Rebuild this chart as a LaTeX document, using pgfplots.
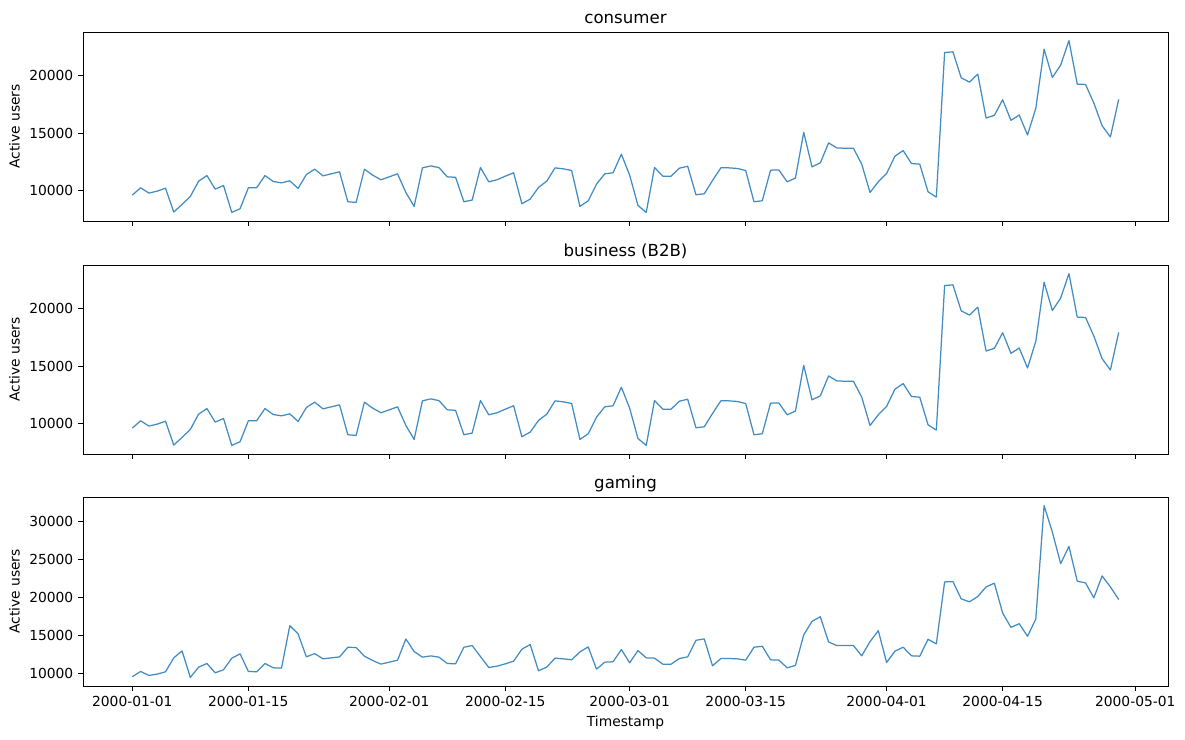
\documentclass[border=0pt]{standalone}
\usepackage{fontspec}
\setmainfont{DejaVu Sans}
\usepackage{pgfplots}
\usepackage{pgfplotstable}
\pgfplotsset{compat=1.18}
\definecolor{ln}{RGB}{66,140,194}
\pgfplotstableread{
d c g
0 9590 9610
1 10235 10305
2 9770 9780
3 9940 9955
4 10200 10260
5 8115 12090
6 8780 13005
7 9480 9520
8 10810 10870
9 11300 11350
10 10115 10130
11 10435 10520
12 8090 12050
13 8405 12615
14 10235 10305
15 10235 10260
16 11300 11350
17 10780 10785
18 10665 10740
19 10840 16315
20 10175 15230
21 11390 12220
22 11855 12655
23 11275 11960
24 11450 12090
25 11625 12220
26 9015 13485
27 8955 13440
28 11855 12310
29 11335 11740
30 10930 11265
31 11190 11525
32 11450 11785
33 9825 14575
34 8610 12920
35 11970 12180
36 12145 12350
37 11990 12180
38 11190 11350
39 11145 11305
40 9015 13485
41 9160 13705
42 12000 12265
43 10755 10825
44 10930 11000
45 11245 11305
46 11540 11655
47 8840 13225
48 9245 13835
49 10260 10390
50 10810 10870
51 11970 12050
52 11885 11960
53 11740 11830
54 8610 12875
55 9100 13530
56 10550 10610
57 11450 11525
58 11540 11570
59 13160 13180
60 11335 11440
61 8695 13050
62 8085 12090
63 12000 12050
64 11245 11265
65 11245 11265
66 11940 12005
67 12115 12220
68 9625 14400
69 9710 14575
70 10870 11045
71 11970 12005
72 11970 12005
73 11915 11960
74 11740 11785
75 9015 13485
76 9100 13615
77 11770 11830
78 11790 11800
79 10755 10780
80 11075 11090
81 15070 15100
82 12060 16885
83 12405 17490
84 14145 14180
85 13710 13700
86 13680 13700
87 13680 13700
88 12290 12355
89 9825 14225
90 10755 15660
91 11480 11480
92 12985 12965
93 13480 13485
94 12350 12355
95 12290 12310
96 9885 14530
97 9420 13920
98 22030 22065
99 22090 22110
100 19825 19840
101 19450 19450
102 20145 20150
103 16320 21410
104 16550 21895
105 17915 17975
106 16115 16100
107 16580 16575
108 14840 14925
109 17160 17190
110 22320 32090
111 19855 28600
112 20930 24465
113 23070 26730
114 19275 22155
115 19245 21935
116 17625 19975
117 15650 22850
118 14665 21410
119 17940 19760
}\data
\pgfplotsset{
 panel/.style={
  scale only axis, width=10.85in, height=1.89in,
  anchor=north west,
  xmin=-5.95, xmax=124.95,
  enlarge y limits=0.05,
  axis line style={line width=0.6pt},
  every tick/.style={black, line width=0.6pt},
  major tick length=3.5pt,
  tick align=outside, tick pos=left,
  xtick={0,14,31,45,60,74,91,105,121},
  ticklabel style={font=\fontsize{10}{12}\selectfont},
  /pgf/number format/assume math mode=true,
  /pgf/number format/1000 sep={},
  scaled y ticks=false,
  ylabel={Active users},
  ylabel style={font=\fontsize{10}{12}\selectfont},
  xlabel style={font=\fontsize{10}{12}\selectfont},
  title style={font=\fontsize{12}{14}\selectfont, anchor=base, inner sep=0pt},
 },
 ser/.style={color=ln, line width=0.9pt, line join=round, mark=none},
}
\begin{document}
\begin{tikzpicture}
\path[use as bounding box] (0,0) rectangle (11.85in,-7.4in);
\begin{axis}[panel, at={(0.83in,-0.32in)}, title={consumer},
  ytick={10000,15000,20000}, xticklabels={}]
\addplot[ser] table[x=d,y=c]{\data};
\end{axis}
\begin{axis}[panel, at={(0.83in,-2.65in)}, title={business (B2B)},
  ytick={10000,15000,20000}, xticklabels={}]
\addplot[ser] table[x=d,y=c]{\data};
\end{axis}
\begin{axis}[panel, at={(0.83in,-4.97in)}, title={gaming},
  ytick={10000,15000,20000,25000,30000},
  xticklabels={2000-01-01,2000-01-15,2000-02-01,2000-02-15,2000-03-01,2000-03-15,2000-04-01,2000-04-15,2000-05-01},
  xlabel={Timestamp}]
\addplot[ser] table[x=d,y=g]{\data};
\end{axis}
\end{tikzpicture}
\end{document}
